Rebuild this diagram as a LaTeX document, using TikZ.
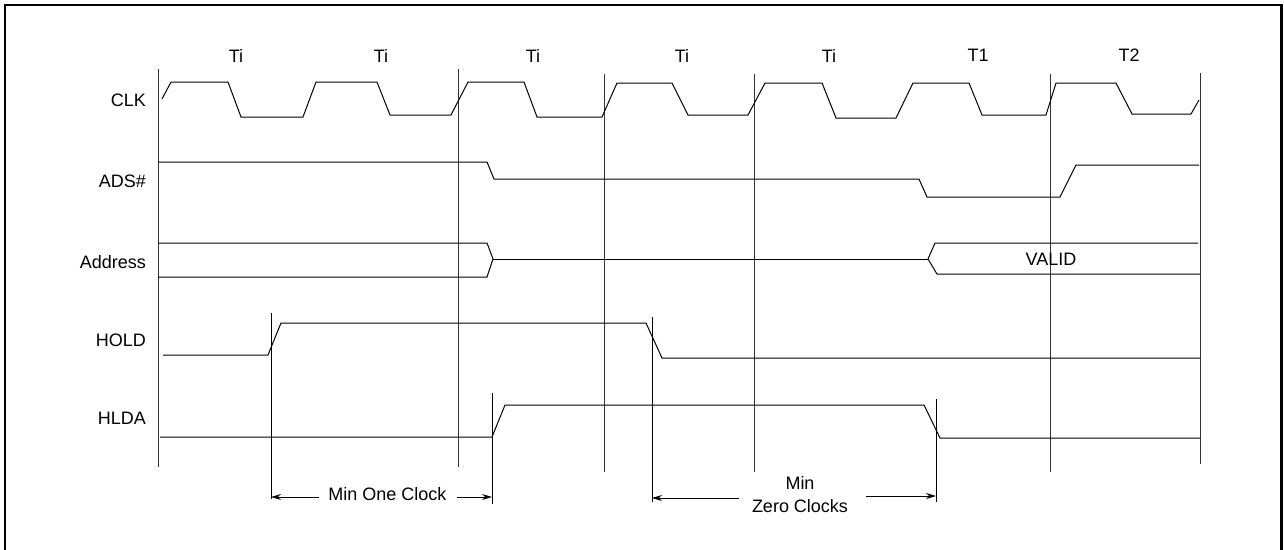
\documentclass[tikz,border=0pt]{standalone}
\usepackage{fontspec}
\setmainfont{Liberation Sans}
\usetikzlibrary{arrows.meta}
\begin{document}
\begin{tikzpicture}[x=1pt,y=-1pt,
  sig/.style={line width=1pt, line join=miter},
  gridline/.style={line width=1pt, draw=black!80},
  lbl/.style={font=\fontsize{18}{23}\selectfont, inner sep=0pt},
  dim/.style={line width=1pt, -{Stealth[length=10pt,width=6pt]}},
  markline/.style={line width=1pt}
]
\useasboundingbox (0,0) rectangle (1284,549);
\clip (0,0) rectangle (1284,549);
% frame
\draw[line width=2.5pt] (5,5) rectangle (1281.5,570);

% signal names
\node[lbl, anchor=east] (lclk)  at (146,100) {CLK};
\node[lbl, anchor=east] (lads)  at (146,181) {ADS\#};
\node[lbl, anchor=east] (laddr) at (146,262) {Address};
\node[lbl, anchor=east] (lhold) at (146,340) {HOLD};
\node[lbl, anchor=east] (lhlda) at (146,418) {HLDA};

% state labels
\node[lbl] (s1) at (236,55.5) {Ti};
\node[lbl] (s2) at (381,55.5) {Ti};
\node[lbl] (s3) at (533,55.5) {Ti};
\node[lbl] (s4) at (682,55.5) {Ti};
\node[lbl] (s5) at (829,55.5) {Ti};
\node[lbl] (s6) at (978,55.5) {T1};
\node[lbl] (s7) at (1129,55.5) {T2};

% clock boundary lines
\draw[gridline] (158,69) -- (158,467);
\draw[gridline] (458,69) -- (458,467);
\draw[gridline] (604,74) -- (604,472);
\draw[gridline] (754,74) -- (754,472);
\draw[gridline] (1050,74) -- (1050,472);
\draw[gridline] (1200,73) -- (1200,464);

% CLK
\draw[sig] (162,99) -- (171,82) -- (228,82) -- (241,117) -- (303,117) -- (316,82)
  -- (377,82) -- (390,115) -- (451,115) -- (468,82) -- (524,82) -- (537,117)
  -- (602,117) -- (617,83) -- (672,83) -- (688,115) -- (748,115) -- (765,83)
  -- (822,83) -- (836,118) -- (896,118) -- (913,83) -- (969,83) -- (982,115)
  -- (1046,115) -- (1056,83) -- (1116,83) -- (1132,114) -- (1191,114) -- (1199,100);

% ADS#
\draw[sig] (158,162) -- (487,162) -- (494,179) -- (919,179) -- (927,197)
  -- (1060,197) -- (1076,165) -- (1199,165);

% Address
\draw[sig] (158,243) -- (487,243) -- (493,259) -- (487,277) -- (158,277);
\draw[sig] (493,259) -- (928,259);
\draw[sig] (1198,243) -- (935,243) -- (928,259) -- (937,274) -- (1200,274);
\node[lbl] (valid) at (1051,259) {VALID};

% HOLD
\draw[sig] (163,355) -- (268,355) -- (281,323) -- (646,323) -- (662,358) -- (1200,358);

% HLDA
\draw[sig] (160,437) -- (492,437) -- (505,405) -- (924,405) -- (940,438) -- (1200,438);

% timing markers
\coordinate (m1t) at (271,313); \coordinate (m1) at (271,497); \coordinate (m1b) at (271,499);
\coordinate (m2t) at (492,393); \coordinate (m2) at (492,497); \coordinate (m2b) at (492,504);
\coordinate (m3t) at (652,317); \coordinate (m3) at (652,498); \coordinate (m3b) at (652,502);
\coordinate (m4t) at (936,399); \coordinate (m4) at (936,496); \coordinate (m4b) at (936,502);
\draw[markline] (m1t) -- (m1b);
\draw[markline] (m2t) -- (m2b);
\draw[markline] (m3t) -- (m3b);
\draw[markline] (m4t) -- (m4b);

\node[lbl] (minone) at (387.5,494) {Min One Clock};
\draw[dim, shorten <=9pt] (minone.west |- m1) -- (m1);
\draw[dim, shorten <=10pt] (minone.east |- m2) -- (m2);

\node[lbl, align=center] (minzero) at (800,494.5) {Min\\Zero Clocks};
\coordinate (z1) at (739,498);
\coordinate (z2) at (866,496);
\draw[dim] (z1) -- (m3);
\draw[dim] (z2) -- (m4);
\end{tikzpicture}
\end{document}
